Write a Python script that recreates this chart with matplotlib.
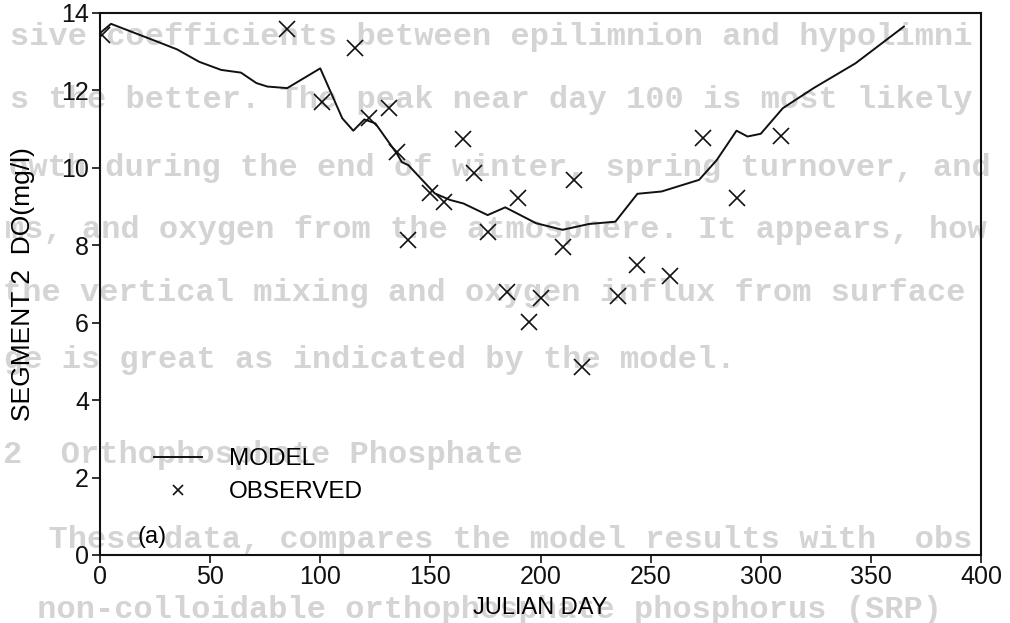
import matplotlib
matplotlib.use("Agg")
import matplotlib.pyplot as plt

# model curve, segment 2 dissolved oxygen
model_day = [0, 5, 26, 35, 45, 55, 64, 71, 76, 85, 100, 110, 115, 120, 125, 135,
             137, 140, 152, 159, 165, 176, 184, 198, 210, 222, 234, 244, 255, 272,
             280, 289, 294, 300, 310, 324, 343, 365]
model_do = [13.48, 13.72, 13.26, 13.06, 12.74, 12.53, 12.46, 12.19, 12.10, 12.06,
            12.57, 11.28, 10.96, 11.25, 11.15, 10.35, 10.15, 10.07, 9.34, 9.17,
            9.08, 8.78, 8.98, 8.57, 8.40, 8.55, 8.61, 9.33, 9.39, 9.69, 10.20,
            10.96, 10.81, 10.88, 11.54, 12.06, 12.70, 13.65]

# observed samples
obs_day = [1, 85, 101, 116, 122, 131, 135, 140, 150, 156, 165, 170, 176, 185, 190,
           195, 200, 210, 215, 219, 235, 244, 259, 274, 289, 309]
obs_do = [13.43, 13.58, 11.71, 13.10, 11.28, 11.54, 10.40, 8.14, 9.34, 9.13, 10.74,
          9.86, 8.34, 6.80, 9.23, 6.02, 6.63, 7.96, 9.69, 4.86, 6.70, 7.49, 7.21,
          10.76, 9.21, 10.81]

x_ticks = [0, 50, 100, 150, 200, 250, 300, 350, 400]
y_ticks = [0, 2, 4, 6, 8, 10, 12, 14]

# typewritten page text showing through the scan (only the visible part)
page_lines = [
    "sive coefficients between epilimnion and hypolimni",
    "s the better. The peak near day 100 is most likely",
    "owth during the end of winter, spring turnover, and",
    "ms, and oxygen from the atmosphere. It appears, how",
    "the vertical mixing and oxygen influx from surface",
    "ge is great as indicated by the model.",
    "2  Orthophosphate Phosphate",
    "  These data, compares the model results with  obs",
    " non-colloidable orthophosphate phosphorus (SRP)",
]
page_y = [37, 100, 168, 230, 293, 360, 455, 540, 610]
page_x = [10, 10, 9, 5, 3, 4, 3, 10, 18]

plt.rcParams['font.family'] = ['Liberation Sans', 'DejaVu Sans']

fig = plt.figure(figsize=(10.10, 6.23), dpi=100)
fig.patch.set_facecolor('white')

for txt, py, px in zip(page_lines, page_y, page_x):
    fig.text(px / 1010, 1 - py / 623, txt, family='Liberation Mono', weight='bold',
             fontsize=23, color='#d4d4d4', va='center', ha='left', zorder=-5)

ax = fig.add_axes([100 / 1010, 1 - 555 / 623, 881 / 1010, 542 / 623])
ax.set_facecolor('none')

ax.plot(model_day, model_do, color='#111111', lw=1.4, label='MODEL')
ax.plot(obs_day, obs_do, ls='none', marker='x', ms=11, mew=1.2, color='#111111',
        label='OBSERVED')

ax.set_xlim(0, 400)
ax.set_ylim(0, 14)
ax.set_xticks(x_ticks)
ax.set_yticks(y_ticks)
ax.tick_params(direction='out', length=6, width=1.2, labelsize=18, colors='#111111')
ax.tick_params(axis='x', pad=1)
ax.tick_params(axis='y', pad=2)
for sp in ax.spines.values():
    sp.set_linewidth(1.5)
    sp.set_color('#111111')

ax.set_xlabel('JULIAN DAY', fontsize=17)
ax.set_ylabel('SEGMENT 2  DO(mg/l)', fontsize=19)
ax.xaxis.set_label_coords(0.5, -0.077)
ax.yaxis.set_label_coords(-0.074, 0.5)

leg = ax.legend(loc='upper left', bbox_to_anchor=(0.05, 0.215), frameon=False,
                fontsize=17.5, handlelength=2.0, handletextpad=1.1, labelspacing=0.45,
                markerscale=0.6, borderaxespad=0)
ax.text(0.042, 0.012, '(a)', transform=ax.transAxes, fontsize=17, ha='left', va='bottom')

fig.savefig('out.png', dpi=100)
